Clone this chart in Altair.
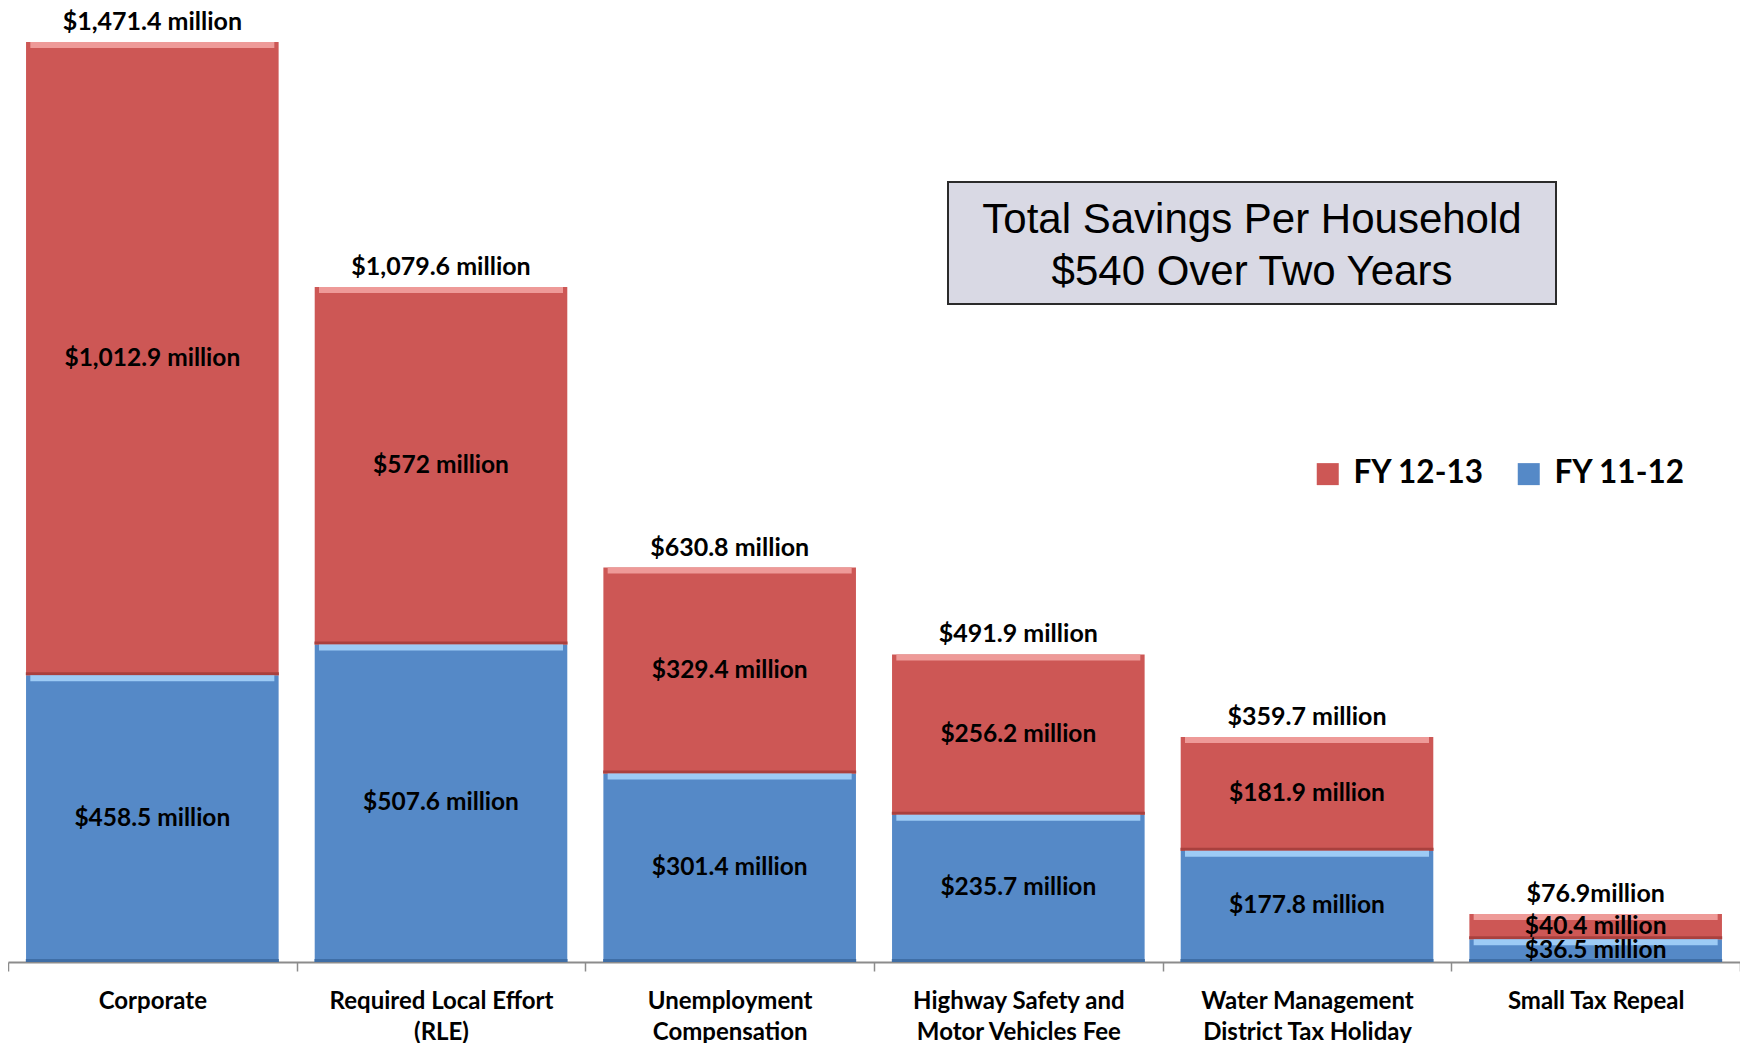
import altair as alt
import pandas as pd

categories = [
    "Corporate",
    "Required Local Effort\n(RLE)",
    "Unemployment\nCompensation",
    "Highway Safety and\nMotor Vehicles Fee",
    "Water Management\nDistrict Tax Holiday",
    "Small Tax Repeal",
]
fy1112 = [458.5, 507.6, 301.4, 235.7, 177.8, 36.5]
fy1213 = [1012.9, 572.0, 329.4, 256.2, 181.9, 40.4]
fy1112_labels = ["$458.5 million", "$507.6 million", "$301.4 million",
                 "$235.7 million", "$177.8 million", "$36.5 million"]
fy1213_labels = ["$1,012.9 million", "$572 million", "$329.4 million",
                 "$256.2 million", "$181.9 million", "$40.4 million"]
totals = [1471.4, 1079.6, 630.8, 491.9, 359.7, 76.9]
total_labels = ["$1,471.4 million", "$1,079.6 million", "$630.8 million",
                "$491.9 million", "$359.7 million", "$76.9million"]
series = ["FY 12-13", "FY 11-12"]
box_lines = ["Total Savings Per Household", "$540 Over Two Years"]

RED = "#CD5755"
BLUE = "#5589C7"
RED_HI = "#EE9A98"
BLUE_HI = "#9DCBF5"
RED_LO = "#A9403E"
BLUE_LO = "#3F6EA6"

rows = []
for i, c in enumerate(categories):
    b, r = fy1112[i], fy1213[i]
    rows.append(dict(cat=c, period="FY 11-12", ord=0, v=b, y0=0.0, y1=b,
                     mid=b / 2, lab=fy1112_labels[i]))
    rows.append(dict(cat=c, period="FY 12-13", ord=1, v=r, y0=b, y1=b + r,
                     mid=b + r / 2, lab=fy1213_labels[i]))
df = pd.DataFrame(rows)
df_blue = df[df["period"] == "FY 11-12"]
df_red = df[df["period"] == "FY 12-13"]
tot = pd.DataFrame(dict(cat=categories, total=totals, lab=total_labels))

FONT = "Lato"
xscale = alt.Scale(paddingInner=0, paddingOuter=0)
xenc = alt.X(
    "cat:N", sort=categories, title=None, scale=xscale,
    axis=alt.Axis(
        labelAngle=0, labelExpr="split(datum.label, '\\n')",
        labelFont=FONT, labelFontSize=24, labelFontWeight="bold",
        labelColor="black", labelLineHeight=31, labelPadding=18,
        tickBand="extent", tickSize=9, tickColor="#8C8C8C", tickWidth=1.5,
        domainColor="#8C8C8C", domainWidth=2, grid=False, labelLimit=400,
    ),
)
xplain = alt.X("cat:N", sort=categories, scale=xscale)
yscale = alt.Scale(domain=[0, 1516.2], nice=False, zero=True)

bars = alt.Chart(df).mark_bar(
    width=alt.RelativeBandSize(0.875), opacity=1
).encode(
    x=xenc,
    y=alt.Y("y0:Q", scale=yscale, axis=None),
    y2="y1:Q",
    color=alt.Color(
        "period:N",
        scale=alt.Scale(domain=series, range=[RED, BLUE]),
        legend=alt.Legend(
            orient="none", legendX=1304, legendY=444, direction="horizontal",
            title=None, symbolType="square", symbolSize=484,
            symbolStrokeWidth=0, symbolOpacity=1,
            labelFont=FONT, labelFontSize=31.5, labelFontWeight="bold",
            labelColor="black", labelOffset=10, columnPadding=28,
        ),
    ),
)


def edge(data, field, color, thickness, size, offset):
    return alt.Chart(data).mark_tick(
        color=color, thickness=thickness, size=size, yOffset=offset, opacity=1
    ).encode(x=xplain, y=alt.Y(f"{field}:Q", scale=yscale))


shade_b = edge(df_blue, "y0", BLUE_LO, 3, 253, -1.5)
shade_r = edge(df_red, "y0", RED_LO, 3, 253, -1.5)
bevel_b = edge(df_blue, "y1", BLUE_HI, 6, 244, 3)
bevel_r = edge(df_red, "y1", RED_HI, 6, 244, 3)

seg_text = alt.Chart(df).mark_text(
    font=FONT, fontSize=24.5, fontWeight="bold", color="black", baseline="middle"
).encode(
    x=xplain,
    y=alt.Y("mid:Q", scale=yscale),
    text="lab:N",
)

tot_text = alt.Chart(tot).mark_text(
    font=FONT, fontSize=25, fontWeight="bold", color="black",
    baseline="alphabetic", dy=-12
).encode(
    x=xplain,
    y=alt.Y("total:Q", scale=yscale),
    text="lab:N",
)

one = pd.DataFrame({"k": [0]})
box = alt.Chart(one).mark_rect(
    fill="#D9D9E4", stroke="#2B2B2B", strokeWidth=2
).encode(
    x=alt.value(940), x2=alt.value(1548), y=alt.value(168), y2=alt.value(290)
)
box_text = alt.Chart(one).mark_text(
    text=box_lines, font="Liberation Sans", fontSize=42, color="black",
    lineHeight=52, baseline="middle", align="center"
).encode(x=alt.value(1244), y=alt.value(206))

chart = alt.layer(
    bars, shade_b, shade_r, bevel_b, bevel_r, seg_text, tot_text, box, box_text
).properties(
    width=1732, height=948,
    padding={"left": 0, "top": 6, "right": 0, "bottom": 81},
    autosize=alt.AutoSizeParams(type="none"),
    background="white",
).configure_view(stroke=None)

chart.save("out.html", embed_options={"renderer": "svg", "actions": False})
